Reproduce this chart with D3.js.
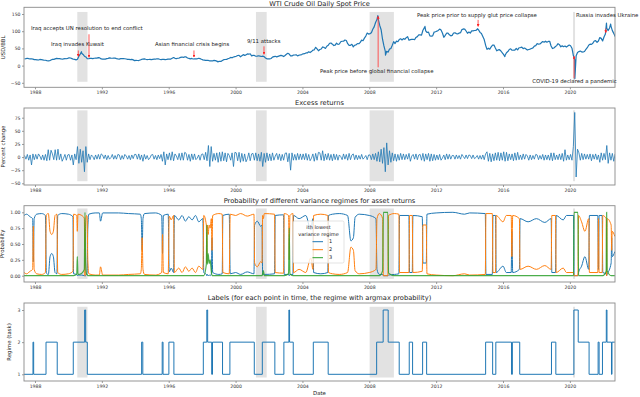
<!DOCTYPE html>
<html>
<head>
<meta charset="utf-8">
<script src="https://cdn.jsdelivr.net/npm/d3@7"></script>
<style>
  body { margin: 0; background: #fff; }
  svg { display: block; font-family: "DejaVu Sans", sans-serif; }
</style>
</head>
<body>
<svg id="chart" width="640" height="397"></svg>
<script>
// ---- data ----

// WTI monthly spot price, USD/BBL, May 1987 .. Sep 2022
const wtiMonthly = [
  19.44, 20.07, 21.34, 20.31, 19.53, 19.86, 18.85, 17.28,                  // 1987 (May-Dec)
  17.13, 16.80, 16.20, 17.86, 17.42, 16.53, 15.50, 15.52, 14.54, 13.77, 14.14, 16.38,
  18.02, 17.94, 19.48, 21.07, 20.12, 20.05, 19.78, 18.58, 19.59, 20.10, 19.86, 21.10,
  22.86, 22.11, 20.39, 18.43, 18.20, 16.70, 18.45, 27.31, 33.51, 36.04, 32.33, 27.28,
  25.23, 20.48, 19.90, 20.83, 21.23, 20.19, 21.40, 21.69, 21.89, 23.23, 22.46, 19.50,
  18.79, 19.01, 18.92, 20.23, 20.98, 22.39, 21.78, 21.34, 21.88, 21.69, 20.34, 19.41,
  19.03, 20.09, 20.32, 20.25, 19.95, 19.09, 17.89, 18.01, 17.50, 18.15, 16.61, 14.52,
  15.03, 14.78, 14.66, 16.38, 17.89, 19.06, 19.66, 18.38, 17.45, 17.72, 18.07, 17.16,
  18.04, 18.57, 18.54, 19.90, 19.74, 18.45, 17.33, 18.02, 18.23, 17.43, 17.99, 19.03,
  18.86, 19.09, 21.33, 23.50, 21.17, 20.42, 21.30, 21.90, 23.97, 24.88, 23.71, 25.23,
  25.13, 22.18, 20.97, 19.70, 20.82, 19.26, 19.66, 19.95, 19.80, 21.33, 20.19, 18.33,
  16.72, 16.06, 15.12, 15.35, 14.91, 13.72, 14.17, 13.47, 15.03, 14.46, 12.98, 11.35,
  12.52, 12.01, 14.68, 17.31, 17.72, 17.92, 20.10, 21.28, 23.80, 22.69, 25.00, 26.10,
  27.26, 29.37, 29.84, 25.72, 28.79, 31.82, 29.70, 31.26, 33.88, 33.11, 34.42, 28.44,
  29.59, 29.61, 27.25, 27.49, 28.63, 27.60, 26.43, 27.37, 26.20, 22.17, 19.64, 19.39,
  19.72, 20.72, 24.53, 26.18, 27.04, 25.52, 26.97, 28.39, 29.66, 28.84, 26.35, 29.46,
  32.95, 35.83, 33.51, 28.17, 28.11, 30.66, 30.76, 31.57, 28.31, 30.34, 31.11, 32.13,
  34.31, 34.69, 36.74, 36.75, 40.28, 38.03, 40.78, 44.90, 45.94, 53.28, 48.47, 43.15,
  46.84, 48.15, 54.19, 52.98, 49.83, 56.35, 59.00, 64.99, 65.59, 62.26, 58.32, 59.41,
  65.49, 61.63, 62.69, 69.44, 70.84, 70.95, 74.41, 73.04, 63.80, 58.89, 59.08, 61.96,
  54.51, 59.28, 60.44, 63.98, 63.46, 67.49, 74.12, 72.36, 79.92, 85.80, 94.77, 91.69,
  92.97, 95.39, 105.45, 112.58, 125.40, 133.88, 133.37, 116.67, 104.11, 76.61, 57.31, 41.12,
  41.71, 39.09, 47.94, 49.65, 59.03, 69.64, 64.15, 71.05, 69.41, 75.72, 77.99, 74.47,
  78.33, 76.39, 81.20, 84.29, 73.74, 75.34, 76.32, 76.60, 75.24, 81.89, 84.25, 89.15,
  89.17, 88.58, 102.86, 109.53, 100.90, 96.26, 97.30, 86.33, 85.52, 86.32, 97.16, 98.56,
  100.27, 102.20, 106.16, 103.32, 94.66, 82.30, 87.90, 94.13, 94.51, 89.49, 86.53, 87.86,
  94.76, 95.31, 92.94, 92.02, 94.51, 95.77, 104.67, 106.57, 106.29, 100.54, 93.86, 97.63,
  94.62, 100.82, 100.80, 102.07, 102.18, 105.79, 103.59, 96.54, 93.21, 84.40, 75.79, 59.29,
  47.22, 50.58, 47.82, 54.45, 59.27, 59.82, 50.90, 42.87, 45.48, 46.22, 42.44, 37.19,
  31.68, 30.32, 37.55, 40.75, 46.71, 48.76, 44.65, 44.72, 45.18, 49.78, 45.66, 51.97,
  52.50, 53.47, 49.33, 51.06, 48.48, 45.18, 46.63, 48.04, 49.82, 51.58, 56.64, 57.88,
  63.70, 62.23, 62.73, 66.25, 69.98, 67.87, 70.98, 68.06, 70.23, 70.75, 56.96, 49.52,
  51.38, 54.95, 58.15, 63.86, 60.83, 54.66, 57.35, 54.81, 56.95, 53.96, 57.03, 59.88,
  57.52, 50.54, 29.21, 16.55, 28.56, 38.31, 40.71, 42.34, 39.63, 39.40, 40.94, 47.02,
  52.00, 59.04, 62.33, 61.72, 65.17, 71.38, 72.49, 67.73, 71.65, 81.48, 79.15, 71.71,
  83.22, 91.64, 108.50, 101.78, 109.55, 114.84, 101.62, 93.67, 84.26                 // 2022 (Jan-Sep)
];
// daily extremes visible on the price line: [decimal year, price]
const wtiDailyExtremes = [
  [1990.78, 40.4], [1998.95, 10.8], [2008.51, 145.3], [2008.97, 30.3],
  [2011.33, 113.9], [2014.47, 107.3], [2016.11, 26.2], [2020.30, -37.6],
  [2022.19, 123.7], [2022.44, 120.9]
];

// excess returns (percent change), one swing per month, May 1987 .. Sep 2022
const excessReturns = [
  3, -4, 5, -6, 4, -15, 6, -5,
  5, -4, 6, 2, -5, 4, -6, 5, -7, 14, -6, 13,
  6, -5, 14, -6, 15, -5, 6, -8, -2, 5, -6, 4,
  5, -6, 4, -15, 6, -5, 20, -12, 15, -10, 12, -28,
  20, -10, 6, -5, 4, 1, -5, 4, -4, 5, -4, 6,
  4, -3, 4, -5, 3, -4, -1, 5, -4, 3, -4, 5,
  4, -5, 3, -4, 5, 2, -4, 3, -5, 4, -3, 5,
  5, -4, 6, -5, 4, -8, 5, -4, 3, -5, -2, 4,
  5, -4, 3, -5, 4, -3, 5, -8, 10, -15, 6, -5,
  8, -6, 10, -7, 6, 2, -5, 7, -6, 8, -6, 9,
  7, -6, 5, -8, 6, -5, 6, -5, -2, 4, -6, 5,
  6, -5, 9, -7, 22, -18, 20, -8, 7, -6, 8, -10,
  9, -8, 10, -7, 8, -9, 7, 3, -6, 8, -18, 9,
  8, -7, 9, -10, 7, -8, 6, -9, -3, 8, -7, 6,
  7, -6, 8, -7, 6, -8, 9, -18, 7, -10, 8, -7,
  6, -7, 8, -6, 2, 7, -5, 6, -7, 5, -6, 7,
  8, -9, 7, -25, 8, -6, 5, -6, 7, -5, 6, -5,
  6, -5, 7, -6, 5, -7, -2, 6, -8, 7, -6, 9,
  8, -6, 12, -7, 6, -5, 7, -6, 5, -7, 6, -5,
  5, -6, 4, 1, -5, 6, -4, 5, -6, 7, -5, 4,
  6, -5, 4, -5, 3, -4, 5, -4, -1, 3, -5, 4,
  4, -5, 6, -5, 7, -8, 10, -9, 15, -12, 18, -28,
  27, -15, 12, -10, 8, -7, 6, -8, 5, -6, 7, -5,
  6, -5, 5, -4, 7, -8, 2, 5, -4, 6, -5, 4,
  5, -6, 7, -8, 6, -5, 7, -8, 6, -7, 5, -6,
  4, -5, 5, -6, -2, 4, -5, 6, -4, 5, -4, 3,
  3, -4, 4, -3, 3, -4, 5, 1, -3, 4, -3, 4,
  3, -3, 4, -3, -1, 3, -4, 3, -4, 4, -5, 6,
  10, -8, 7, -9, 6, -7, 8, -6, 9, -7, 8, -6,
  10, -8, 9, -7, 6, -5, 6, -7, 8, -6, 9, -5,
  4, -5, 6, -4, 5, 2, -6, 4, -5, 3, -4, 5,
  4, -5, 3, -4, 5, -6, 4, -5, 4, -6, 8, -7,
  8, -5, 4, -5, 6, -5, 7, -8, 14, -6, 4, -5,
  5, -6, 20, 85, -38, 15, 8, -6, 7, -5, 6, -4,
  5, -4, 6, -7, 5, -4, 6, -5, 4, -10, 8, -6,
  7, -5, 22, -12, 8, -6, 7, -8, 6
];

// regime probabilities: [decimal year, p(regime 1), p(regime 2), p(regime 3)]
const regimeProbs = [
  [1987.34, .95, .05, 0], [1987.50, .97, .03, 0], [1987.70, .93, .07, 0], [1987.86, .90, .10, 0],
  [1987.90, .22, .78, 0], [1987.95, .90, .10, 0], [1988.10, .97, .03, 0], [1988.40, .98, .02, 0],
  [1988.62, .95, .05, 0], [1988.68, .04, .96, 0], [1988.80, .02, .98, 0], [1988.90, .30, .70, 0],
  [1989.00, .35, .65, 0], [1989.10, .30, .70, 0], [1989.20, .05, .95, 0], [1989.31, .03, .97, 0],
  [1989.36, .95, .05, 0], [1989.60, .98, .02, 0], [1990.00, .97, .03, 0], [1990.27, .93, .07, 0],
  [1990.31, .03, .97, 0], [1990.50, .02, .95, .03], [1990.53, 0, .70, .30], [1990.57, .01, .97, .02],
  [1990.80, .01, .95, .04], [1990.95, 0, .90, .10], [1990.99, 0, 0, 1], [1991.03, 0, .80, .20],
  [1991.08, .02, .95, .03], [1991.12, .05, .93, .02], [1991.16, .75, .25, 0], [1991.22, .97, .03, 0],
  [1991.60, .99, .01, 0], [1991.85, .99, .01, 0], [1991.92, .86, .14, 0], [1992.05, .99, .01, 0],
  [1993.00, .99, .01, 0], [1993.60, .98, .02, 0], [1994.30, .97, .03, 0], [1994.36, .90, .10, 0],
  [1994.41, .40, .60, 0], [1994.46, .90, .10, 0], [1994.55, .98, .02, 0], [1995.20, .99, .01, 0],
  [1995.58, .95, .05, 0], [1995.63, .35, .65, 0], [1995.68, .95, .05, 0], [1995.97, .97, .03, 0],
  [1996.03, .06, .94, 0], [1996.15, .12, .88, 0], [1996.29, .05, .95, 0], [1996.34, .95, .05, 0],
  [1996.60, .88, .12, 0], [1996.80, .95, .05, 0], [1997.00, .86, .14, 0], [1997.20, .93, .07, 0],
  [1997.40, .88, .12, 0], [1997.60, .95, .05, 0], [1997.80, .85, .15, 0], [1998.04, .90, .10, 0],
  [1998.10, .05, .95, 0], [1998.25, .02, .80, .18], [1998.28, 0, .20, .80], [1998.31, .02, .80, .18],
  [1998.36, 0, .65, .35], [1998.42, .01, .80, .19], [1998.48, 0, .75, .25], [1998.55, .03, .90, .07],
  [1998.59, .60, .40, 0], [1998.63, .05, .95, 0], [1999.00, .02, .98, 0], [1999.20, .03, .97, 0],
  [1999.24, .95, .05, 0], [1999.62, .97, .03, 0], [1999.68, .03, .97, 0], [2000.00, .05, .95, 0],
  [2000.30, .02, .98, 0], [2000.70, .06, .94, 0], [2001.10, .03, .97, 0], [2001.14, .80, .20, 0],
  [2001.30, .86, .14, 0], [2001.50, .78, .22, 0], [2001.58, .80, .20, 0], [2001.62, .02, .95, .03],
  [2001.66, .02, .90, .08], [2001.72, .02, .98, 0], [2002.33, .03, .97, 0], [2002.37, .95, .05, 0],
  [2002.87, .96, .04, 0], [2002.91, .02, .98, 0], [2003.17, .02, .95, .03], [2003.21, 0, .25, .75],
  [2003.25, .02, .95, .03], [2003.43, .02, .98, 0], [2003.47, .95, .05, 0], [2003.80, .90, .10, 0],
  [2004.20, .95, .05, 0], [2004.50, .72, .28, 0], [2004.63, .90, .10, 0], [2004.67, .05, .95, 0],
  [2005.10, .03, .97, 0], [2005.52, .05, .95, 0], [2005.56, .95, .05, 0], [2005.80, .97, .03, 0],
  [2006.20, .98, .02, 0], [2006.70, .95, .05, 0], [2006.90, .55, .45, 0], [2007.05, .60, .40, 0],
  [2007.15, .92, .08, 0], [2007.40, .97, .03, 0], [2008.00, .95, .05, 0], [2008.40, .90, .10, 0],
  [2008.46, .10, .90, 0], [2008.60, .02, .98, 0], [2008.80, .02, .90, .08], [2008.84, 0, 0, 1],
  [2009.11, 0, 0, 1], [2009.15, .01, .95, .04], [2009.50, .02, .98, 0], [2009.77, .03, .97, 0],
  [2009.81, .95, .05, 0], [2010.37, .95, .05, 0], [2010.41, .05, .95, 0], [2010.57, .05, .95, 0],
  [2010.61, .95, .05, 0], [2011.17, .93, .07, 0], [2011.21, .20, .80, 0], [2011.41, .20, .80, 0],
  [2011.45, .97, .03, 0], [2012.00, .99, .01, 0], [2013.00, 1, 0, 0], [2013.70, .97, .03, 0],
  [2014.00, .99, .01, 0], [2014.94, .98, .02, 0], [2014.98, .02, .98, 0], [2015.36, .02, .98, 0],
  [2015.40, .95, .05, 0], [2015.55, .95, .05, 0], [2015.59, .05, .95, 0], [2016.00, .15, .85, 0],
  [2016.20, .05, .95, 0], [2016.49, .05, .95, 0], [2016.53, .70, .30, 0], [2016.58, .05, .95, 0],
  [2016.98, .10, .90, 0], [2017.02, .90, .10, 0], [2017.50, .85, .15, 0], [2018.00, .90, .10, 0],
  [2018.50, .84, .16, 0], [2018.88, .90, .10, 0], [2018.92, .05, .95, 0], [2019.14, .05, .95, 0],
  [2019.18, .95, .05, 0], [2019.60, .88, .12, 0], [2019.80, .95, .05, 0], [2020.22, .95, .05, 0],
  [2020.25, 0, 0, 1], [2020.48, 0, 0, 1], [2020.52, .05, .95, 0], [2020.70, .15, .85, 0],
  [2020.90, .30, .70, 0], [2021.13, .10, .90, 0], [2021.17, .95, .05, 0], [2021.67, .95, .05, 0],
  [2021.71, .10, .90, 0], [2021.75, .95, .05, 0], [2021.93, .95, .05, 0], [2021.97, .05, .95, 0],
  [2022.17, .03, .90, .07], [2022.20, 0, 0, 1], [2022.23, .02, .90, .08], [2022.47, .20, .80, 0],
  [2022.50, .60, .40, 0], [2022.53, .30, .70, 0], [2022.69, .38, .62, 0]
];

// argmax regime label, held from each time until the next
const labelTimes = [1987.34, 1987.88, 1987.92, 1988.66, 1989.33, 1990.29, 1990.97, 1991.03, 1991.13, 1994.38,
  1994.45, 1995.61, 1995.66, 1996.01, 1996.31, 1998.07, 1998.28, 1998.33, 1998.57, 1998.62,
  1999.22, 1999.66, 2001.12, 2001.60, 2002.35, 2002.89, 2003.19, 2003.23, 2003.45, 2004.65,
  2005.54, 2008.44, 2008.83, 2009.13, 2009.79, 2010.39, 2010.59, 2011.19, 2011.43, 2014.96,
  2015.38, 2015.57, 2016.51, 2016.56, 2017.00, 2018.90, 2019.16, 2020.24, 2020.50, 2021.15,
  2021.69, 2021.75, 2021.95, 2022.18, 2022.22, 2022.49, 2022.52, 2022.69];
const labelValues = [1, 2, 1, 2, 1, 2, 3, 2, 1, 2,
  1, 2, 1, 2, 1, 2, 3, 2, 1, 2,
  1, 2, 1, 2, 1, 2, 3, 2, 1, 2,
  1, 2, 3, 2, 1, 2, 1, 2, 1, 2,
  1, 2, 1, 2, 1, 2, 1, 3, 2, 1,
  2, 1, 2, 3, 2, 1, 2, 2];

// US recessions shaded in grey: [start, end] decimal years
const recessions = [[1990.53, 1991.14], [2001.22, 2001.86], [2008.02, 2009.47], [2020.19, 2020.31]];

const yearTicks = [1988, 1992, 1996, 2000, 2004, 2008, 2012, 2016, 2020];
const priceTicks = [-50, 0, 50, 100, 150];
const returnTicks = [-50, -25, 0, 25, 50, 75];
const probTicks = [0, 0.25, 0.5, 0.75, 1];
const labelTicks = [1, 2, 3];
const regimeNames = ['1', '2', '3'];

const annotations = [
  { text: 'Iraq accepts UN resolution to end conflict', tx: 1987.76, ty: 108, ax: 1991.23, from: 91, to: 24 },
  { text: 'Iraq invades Kuwait', tx: 1988.96, ty: 62, ax: 1990.59, from: 44, to: 27 },
  { text: 'Asian financial crisis begins', tx: 1995.18, ty: 62, ax: 1997.51, from: 44, to: 25 },
  { text: '9/11 attacks', tx: 2000.68, ty: 70, ax: 2001.70, from: 56, to: 33 },
  { text: 'Peak price before global financial collapse', tx: 2005.05, ty: -17, ax: 2008.53, from: -5, to: 143 },
  { text: 'Peak price prior to supply glut price collapse', tx: 2010.85, ty: 146, ax: 2014.51, from: 133, to: 114 },
  { text: 'COVID-19 declared a pandemic', tx: 2022.81, ty: -46, ax: 2020.25, from: -37, to: 27, anchor: 'end' },
  { text: 'Russia invades Ukraine', tx: 2020.36, ty: 146, ax: 2022.15, from: 108, to: 96 }
];

// ---- layout ----
const colors = ['#1f77b4', '#ff7f0e', '#2ca02c'];
const left = 24, right = 615;
const svg = d3.select('#chart');
const x = d3.scaleLinear().domain([1987.342, 2022.70]).range([left, right]);

const minus = d => (d < 0 ? '\u2212' : '') + Math.abs(d);
const panels = [
  { top: 7.3, bottom: 87.3, title: 'WTI Crude Oil Daily Spot Price', ylabel: 'USD/BBL', labelX: 4, titleY: 6.2,
    y: d3.scaleLinear().domain([-50, 150]).range([82.8, 14]), ticks: priceTicks, fmt: minus, span: [-47, 156] },
  { top: 108, bottom: 185, title: 'Excess returns', ylabel: 'Percent change', labelX: 3.5,
    y: d3.scaleLinear().domain([-50, 75]).range([183.3, 117.7]), ticks: returnTicks, fmt: minus, span: [-46, 89] },
  { top: 205.7, bottom: 282, title: 'Probability of different variance regimes for asset returns', ylabel: 'Probability', labelX: 3,
    y: d3.scaleLinear().domain([0, 1]).range([275.7, 212.3]), ticks: probTicks, fmt: d3.format('.2f'), span: [-0.05, 1.06] },
  { top: 303, bottom: 381, title: 'Labels (for each point in time, the regime with argmax probability)', ylabel: 'Regime (task)', labelX: 10,
    y: d3.scaleLinear().domain([1, 3]).range([374.3, 310]), ticks: labelTicks, fmt: d3.format('d'), span: [0.9, 3.1] }
];

const defs = svg.append('defs');
defs.append('marker').attr('id', 'ah').attr('viewBox', '0 0 6 6')
  .attr('refX', 5).attr('refY', 3).attr('markerWidth', 3.2).attr('markerHeight', 3.2)
  .attr('orient', 'auto')
  .append('path').attr('d', 'M0,0L6,3L0,6Z').attr('fill', '#f22');

panels.forEach((p, i) => {
  defs.append('clipPath').attr('id', 'clip' + i)
    .append('rect').attr('x', left).attr('y', p.top).attr('width', right - left).attr('height', p.bottom - p.top);

  const g = svg.append('g');
  const plot = g.append('g').attr('clip-path', `url(#clip${i})`);

  // recession shading
  plot.selectAll('.span').data(recessions).join('rect')
    .attr('x', d => x(d[0])).attr('width', d => x(d[1]) - x(d[0]))
    .attr('y', p.y(p.span[1])).attr('height', p.y(p.span[0]) - p.y(p.span[1]))
    .attr('fill', '#e2e2e2');
  p.plot = plot;

  // axes
  g.append('g').attr('transform', `translate(0,${p.bottom})`)
    .call(d3.axisBottom(x).tickValues(yearTicks).tickFormat(d3.format('d')).tickSize(2).tickPadding(1.5))
    .call(a => a.select('.domain').remove());
  g.append('g').attr('transform', `translate(${left},0)`)
    .call(d3.axisLeft(p.y).tickValues(p.ticks).tickFormat(p.fmt).tickSize(2).tickPadding(1.5))
    .call(a => a.select('.domain').remove());
  g.selectAll('.tick line').attr('stroke', '#555').attr('stroke-width', 0.6);
  g.selectAll('.tick text').attr('fill', '#333').style('font-size', '4.6px').style('font-family', '"DejaVu Sans", sans-serif');

  g.append('rect').attr('x', left).attr('y', p.top).attr('width', right - left).attr('height', p.bottom - p.top)
    .attr('fill', 'none').attr('stroke', '#8a8a8a').attr('stroke-width', 0.9);

  g.append('text').attr('x', (left + right) / 2).attr('y', p.titleY || p.top - 3)
    .attr('text-anchor', 'middle').attr('fill', '#222').style('font-size', '6.7px').text(p.title);
  g.append('text').attr('transform', `translate(${p.labelX},${(p.top + p.bottom) / 2}) rotate(-90)`)
    .attr('text-anchor', 'middle').attr('dominant-baseline', 'middle')
    .attr('fill', '#222').style('font-size', '5.4px').text(p.ylabel);
});

// panel 1: price
const monthDate = i => 1987 + (4 + i + 0.5) / 12;
const priceSeries = wtiMonthly.map((v, i) => [monthDate(i), v])
  .concat(wtiDailyExtremes).sort((a, b) => a[0] - b[0]);
const p0 = panels[0];
p0.plot.append('path').datum(priceSeries)
  .attr('d', d3.line().x(d => x(d[0])).y(d => p0.y(d[1])))
  .attr('fill', 'none').attr('stroke', colors[0]).attr('stroke-width', 1.2).attr('stroke-linejoin', 'round');

// annotations
const ann = svg.append('g');
annotations.forEach(a => {
  ann.append('line').attr('x1', x(a.ax)).attr('x2', x(a.ax))
    .attr('y1', p0.y(a.from)).attr('y2', p0.y(a.to))
    .attr('stroke', '#f44').attr('stroke-width', 0.9).attr('marker-end', 'url(#ah)');
  ann.append('text').attr('x', x(a.tx)).attr('y', p0.y(a.ty))
    .attr('text-anchor', a.anchor || 'start').attr('dominant-baseline', 'middle')
    .attr('fill', '#222').style('font-size', '5.4px').text(a.text);
});

// panel 2: excess returns
const p1 = panels[1];
p1.plot.append('path').datum(excessReturns.map((v, i) => [monthDate(i), v]))
  .attr('d', d3.line().x(d => x(d[0])).y(d => p1.y(d[1])))
  .attr('fill', 'none').attr('stroke', colors[0]).attr('stroke-width', 0.8);

// panel 3: probabilities
const p2 = panels[2];
[0, 1, 2].forEach(k => {
  p2.plot.append('path').datum(regimeProbs)
    .attr('d', d3.line().curve(d3.curveMonotoneX).x(d => x(d[0])).y(d => p2.y(d[k + 1])))
    .attr('fill', 'none').attr('stroke', colors[k]).attr('stroke-width', k === 2 ? 1.2 : 1)
    .attr('opacity', k === 2 ? 0.85 : 1);
});

// legend
const lg = svg.append('g').attr('transform', 'translate(293,221)');
lg.append('rect').attr('width', 51).attr('height', 42).attr('rx', 1.5)
  .attr('fill', '#fff').attr('fill-opacity', 0.8).attr('stroke', '#d0d0d0').attr('stroke-width', 0.6);
lg.append('text').attr('x', 25.5).attr('y', 7).attr('text-anchor', 'middle').attr('dominant-baseline', 'middle')
  .attr('fill', '#222').style('font-size', '5px').text('ith lowest');
lg.append('text').attr('x', 25.5).attr('y', 13.5).attr('text-anchor', 'middle').attr('dominant-baseline', 'middle')
  .attr('fill', '#222').style('font-size', '5px').text('variance regime');
regimeNames.forEach((n, k) => {
  const yy = 20.7 + k * 8;
  lg.append('line').attr('x1', 19.5).attr('x2', 30).attr('y1', yy).attr('y2', yy)
    .attr('stroke', colors[k]).attr('stroke-width', 1);
  lg.append('text').attr('x', 36).attr('y', yy).attr('dominant-baseline', 'middle')
    .attr('fill', '#222').style('font-size', '5px').text(n);
});

// panel 4: argmax labels
const p3 = panels[3];
p3.plot.append('path').datum(labelTimes.map((t, i) => [t, labelValues[i]]))
  .attr('d', d3.line().curve(d3.curveStepAfter).x(d => x(d[0])).y(d => p3.y(d[1])))
  .attr('fill', 'none').attr('stroke', colors[0]).attr('stroke-width', 1);

svg.append('text').attr('x', (left + right) / 2).attr('y', 395).attr('text-anchor', 'middle')
  .attr('fill', '#222').style('font-size', '5.4px').text('Date');
</script>
</body>
</html>
